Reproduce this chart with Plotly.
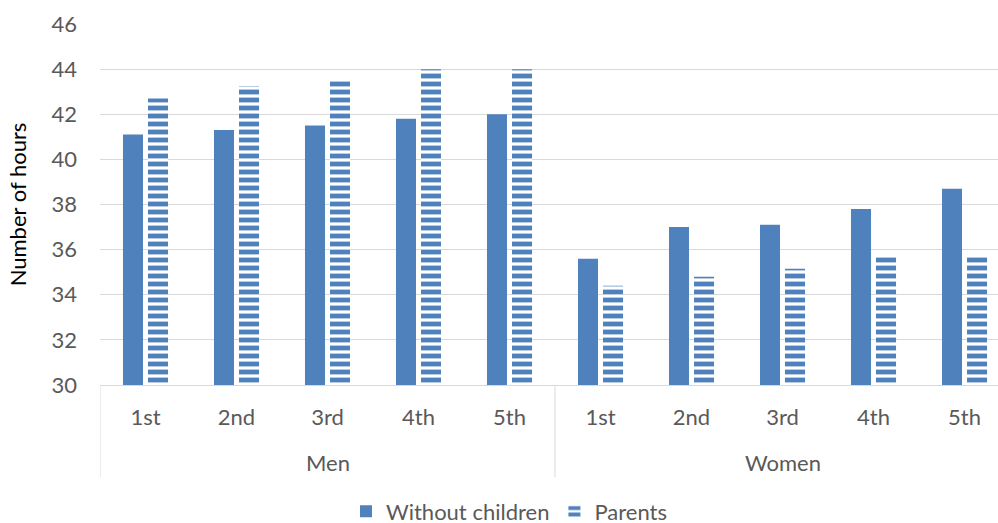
import plotly.graph_objects as go

groups = ["Men"] * 5 + ["Women"] * 5
quintiles = ["1st", "2nd", "3rd", "4th", "5th"] * 2
without_children = [41.1, 41.3, 41.5, 41.8, 42.0, 35.6, 37.0, 37.1, 37.8, 38.7]
parents = [42.7, 43.25, 43.55, 44.0, 44.0, 34.4, 34.8, 35.15, 35.7, 35.7]

BLUE = "#4f81bd"
GRAY_TXT = "#595959"
GRID = "#d9d9d9"
FONT = "Lato"
FS = 22

xpos = list(range(len(quintiles)))

fig = go.Figure()
fig.add_trace(go.Bar(
    x=xpos, y=without_children, name="Without children",
    marker=dict(color=BLUE, line=dict(width=0)),
))
fig.add_trace(go.Bar(
    x=xpos, y=parents, name="Parents",
    marker=dict(color="white", line=dict(width=0),
                pattern=dict(shape="-", size=8, solidity=0.6,
                             fgcolor=BLUE, bgcolor="white", fgopacity=1)),
))

# group labels and dividers, derived from the group array
group_names = []
for g in groups:
    if g not in group_names:
        group_names.append(g)
boundaries = []
for g in group_names:
    idx = [i for i, gg in enumerate(groups) if gg == g]
    lo, hi = min(idx) - 0.5, max(idx) + 0.5
    boundaries += [lo, hi]
    fig.add_annotation(x=(lo + hi) / 2, xref="x", y=-0.2133, yref="paper",
                       text=g, showarrow=False, yanchor="middle",
                       font=dict(family=FONT, size=FS, color=GRAY_TXT))
for b in sorted(set(boundaries)):
    fig.add_shape(type="line", xref="x", yref="paper", x0=b, x1=b,
                  y0=0, y1=-0.2548, line=dict(color=GRID, width=1))

fig.update_layout(
    width=998, height=523,
    margin=dict(l=100, r=0, t=24, b=138),
    paper_bgcolor="white", plot_bgcolor="white",
    barmode="group", bargap=0.45, bargroupgap=0.2,
    font=dict(family=FONT, size=FS, color=GRAY_TXT),
    showlegend=True,
    legend=dict(orientation="h", xref="container", yref="container",
                x=0.51, xanchor="center", y=0.022, yanchor="middle",
                font=dict(size=FS, color=GRAY_TXT), itemwidth=30),
    xaxis=dict(range=[-0.5, 9.368], tickmode="array",
               tickvals=xpos, ticktext=quintiles,
               showline=True, linecolor=GRID, linewidth=1,
               showgrid=False, zeroline=False,
               ticklabelstandoff=13,
               tickfont=dict(size=FS, color=GRAY_TXT), ticks=""),
    yaxis=dict(range=[30, 46], dtick=2, tick0=30,
               showgrid=True, gridcolor=GRID, gridwidth=1,
               zeroline=False, showline=False,
               ticklabelstandoff=22,
               tickfont=dict(size=FS, color=GRAY_TXT),
               title=dict(text="Number of hours", standoff=18,
                          font=dict(size=FS, color="#000000"))),
)

fig.write_html("out.html", config={"displayModeBar": False},
               post_script="document.body.style.margin='0';")
